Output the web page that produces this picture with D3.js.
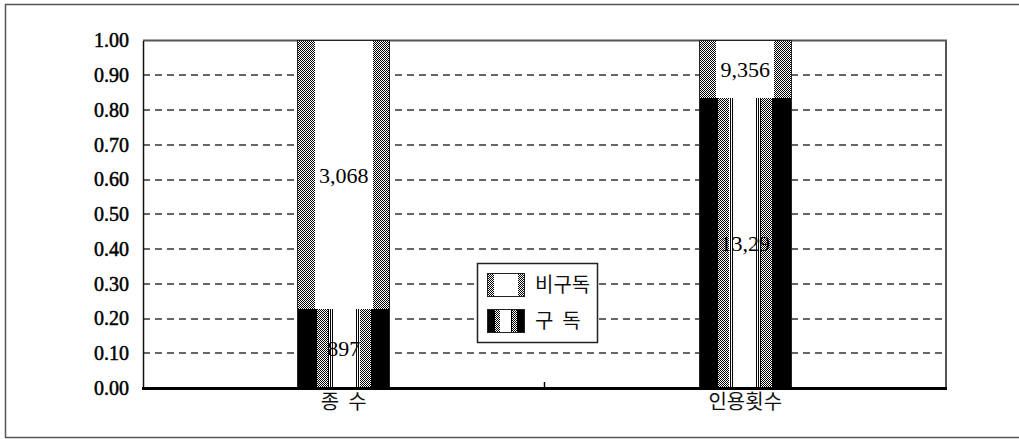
<!DOCTYPE html>
<html>
<head>
<meta charset="utf-8">
<script src="https://cdn.jsdelivr.net/npm/d3@7/dist/d3.min.js"></script>
<style>
	body { margin: 0; background: #fff; }
	svg text { white-space: pre; }
</style>
</head>
<body>
<div id="chart"></div>
<script>

// data
var categories = ["종  수", "인용횟수"];
var subscribedShare = [0.227, 0.835];
var subscribedLabels = ["897", "13,29"];
var nonSubscribedLabels = ["3,068", "9,356"];
var yTicks = [0, 0.1, 0.2, 0.3, 0.4, 0.5, 0.6, 0.7, 0.8, 0.9, 1.0];
var legendLabels = ["비구독", "구  독"];

// stripe layout of each fill, as fractions of the bar width
var subscribedStripes = [
	[0, 0.21, "black"], [0.21, 0.33, "url(#checker)"], [0.33, 0.38, "url(#vlines)"],
	[0.38, 0.62, "white"], [0.62, 0.67, "url(#vlines)"], [0.67, 0.79, "url(#checker)"], [0.79, 1, "black"]
];
var nonSubscribedStripes = [
	[0, 0.19, "url(#checker)"], [0.19, 0.81, "white"], [0.81, 1, "url(#checker)"]
];

var width = 1019, height = 439;

var svg = d3.select("#chart").append("svg")
	.attr("width", width)
	.attr("height", height);

var defs = svg.append("defs");
var checker = defs.append("pattern").attr("id", "checker")
	.attr("patternUnits", "userSpaceOnUse").attr("width", 2).attr("height", 2);
checker.append("rect").attr("width", 2).attr("height", 2).attr("fill", "#fff");
checker.append("rect").attr("width", 1).attr("height", 1).attr("fill", "#000").attr("shape-rendering", "crispEdges");
checker.append("rect").attr("x", 1).attr("y", 1).attr("width", 1).attr("height", 1).attr("fill", "#000").attr("shape-rendering", "crispEdges");

var vlines = defs.append("pattern").attr("id", "vlines")
	.attr("patternUnits", "userSpaceOnUse").attr("width", 2).attr("height", 2);
vlines.append("rect").attr("width", 2).attr("height", 2).attr("fill", "#fff");
vlines.append("rect").attr("width", 1).attr("height", 2).attr("fill", "#000").attr("shape-rendering", "crispEdges");

// outer frame (runs past the right edge like the original)
svg.append("rect")
	.attr("x", 5.5).attr("y", 4.5)
	.attr("width", 1100).attr("height", 433)
	.attr("fill", "none")
	.attr("stroke", "#555")
	.attr("stroke-width", 1.5);

var x = d3.scaleBand()
	.domain(categories)
	.range([143, 946])
	.paddingInner(0.768)
	.paddingOuter(0.384);

var y = d3.scaleLinear()
	.domain([0, 1])
	.range([388, 40.5]);

// dashed grid
svg.append("g").selectAll("line")
	.data(yTicks.filter(function(d) { return d > 0 && d < 1; }))
	.enter().append("line")
	.attr("x1", 143).attr("x2", 946)
	.attr("y1", function(d) { return Math.round(y(d)); })
	.attr("y2", function(d) { return Math.round(y(d)); })
	.attr("stroke", "#666")
	.attr("stroke-width", 2)
	.attr("stroke-dasharray", "7,5")
	.attr("shape-rendering", "crispEdges");

// top and right border of the plot
svg.append("path")
	.attr("d", "M143," + y(1) + "H946V388")
	.attr("fill", "none")
	.attr("stroke", "#555")
	.attr("stroke-width", 2);

function drawStripes(g, x0, w, y0, h, stripes) {
	stripes.forEach(function(s) {
		var a = Math.round(x0 + s[0] * w), b = Math.round(x0 + s[1] * w);
		g.append("rect")
			.attr("x", a)
			.attr("y", Math.round(y0))
			.attr("width", b - a)
			.attr("height", Math.round(y0 + h) - Math.round(y0))
			.attr("fill", s[2])
			.attr("shape-rendering", "crispEdges");
	});
}

var bars = svg.append("g");
categories.forEach(function(c, i) {
	var x0 = x(c), w = x.bandwidth();
	var ySplit = y(subscribedShare[i]);
	drawStripes(bars, x0, w, ySplit, y(0) - ySplit, subscribedStripes);
	drawStripes(bars, x0, w, y(1), ySplit - y(1), nonSubscribedStripes);
	bars.append("rect")
		.attr("x", Math.round(x0) + 0.5).attr("y", y(1))
		.attr("width", Math.round(w) - 1).attr("height", y(0) - y(1))
		.attr("fill", "none")
		.attr("stroke", "#222")
		.attr("stroke-width", 1);

	bars.append("text")
		.attr("x", x0 + w / 2)
		.attr("y", (ySplit + y(0)) / 2)
		.attr("dy", "0.35em")
		.attr("text-anchor", "middle")
		.attr("font-family", "Liberation Serif")
		.attr("font-size", 22)
		.text(subscribedLabels[i]);

	bars.append("text")
		.attr("x", x0 + w / 2)
		.attr("y", (ySplit + y(1)) / 2)
		.attr("dy", "0.35em")
		.attr("text-anchor", "middle")
		.attr("font-family", "Liberation Serif")
		.attr("font-size", 22)
		.text(nonSubscribedLabels[i]);
});

// y axis
var yAxis = svg.append("g")
	.attr("transform", "translate(143,0)")
	.call(d3.axisLeft(y).tickValues(yTicks).tickSize(0).tickPadding(14).tickFormat(d3.format(".2f")));
yAxis.select(".domain").attr("stroke", "#111").attr("stroke-width", 1.5);
yAxis.selectAll("text")
	.attr("font-family", "Liberation Serif")
	.attr("font-size", 20)
	.attr("fill", "#000")
	.attr("stroke", "#000")
	.attr("stroke-width", 0.5);

// x axis
svg.append("line")
	.attr("x1", 142).attr("x2", 947)
	.attr("y1", 388.5).attr("y2", 388.5)
	.attr("stroke", "#000")
	.attr("stroke-width", 3);
svg.append("line")
	.attr("x1", 544.5).attr("x2", 544.5)
	.attr("y1", 382).attr("y2", 388)
	.attr("stroke", "#000")
	.attr("stroke-width", 1.5);

svg.append("g").selectAll("text")
	.data(categories)
	.enter().append("text")
	.attr("x", function(d) { return x(d) + x.bandwidth() / 2; })
	.attr("y", 409)
	.attr("text-anchor", "middle")
	.attr("font-family", "Noto Sans CJK KR")
	.attr("font-size", 20)
	.attr("fill", "#111")
	.text(function(d) { return d; });

// legend
var legend = svg.append("g").attr("transform", "translate(477,263)");
legend.append("rect")
	.attr("x", 0.5).attr("y", 0.5)
	.attr("width", 120).attr("height", 79)
	.attr("fill", "#fff")
	.attr("stroke", "#222")
	.attr("stroke-width", 1.5);

var legendStripes = [nonSubscribedStripes, subscribedStripes];
legendLabels.forEach(function(l, i) {
	var ly = 10 + i * 36;
	drawStripes(legend, 10, 38, ly, 24, legendStripes[i]);
	legend.append("rect")
		.attr("x", 10.5).attr("y", ly + 0.5)
		.attr("width", 37).attr("height", 23)
		.attr("fill", "none")
		.attr("stroke", "#222")
		.attr("stroke-width", 1);
	legend.append("text")
		.attr("x", 58)
		.attr("y", ly + 12)
		.attr("dy", "0.35em")
		.attr("font-family", "Noto Sans CJK KR")
		.attr("font-size", 20)
		.attr("fill", "#111")
		.text(l);
});

</script>
</body>
</html>
